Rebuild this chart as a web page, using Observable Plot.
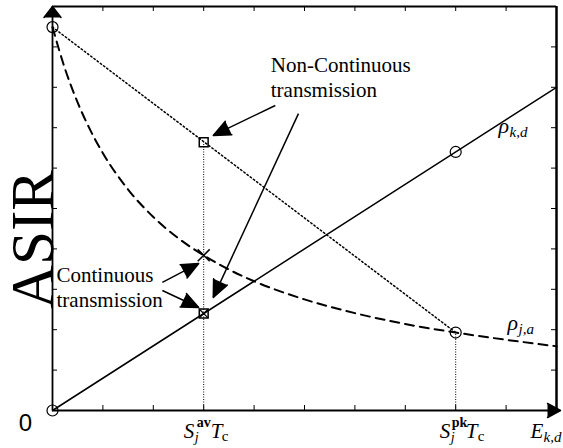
<!DOCTYPE html>
<html>
<head>
<meta charset="utf-8">
<script src="https://cdn.jsdelivr.net/npm/d3@7"></script>
<script src="https://cdn.jsdelivr.net/npm/@observablehq/plot@0.6"></script>
<style>
  html, body { margin: 0; padding: 0; background: #fff; }
  #chart svg { font-family: "Liberation Serif", "Times New Roman", serif; }
</style>
</head>
<body>
<div id="chart"></div>
<script>
// ---------- data ----------
const tickValues = [1, 2, 3, 4, 5, 6, 7, 8, 9];

// rho_{k,d}: straight line
const kdX = [0, 10];
const kdY = [0, 8.0];

// rho_{j,a}: dashed decreasing curve
const jaX = [0, 0.25, 0.5, 0.75, 1, 1.5, 2, 2.5, 3, 3.5, 4, 5, 6, 7, 8, 9, 10];
const jaY = [9.49, 8.45, 7.62, 6.94, 6.37, 5.47, 4.79, 4.26, 3.84, 3.49, 3.20, 2.75, 2.41, 2.14, 1.93, 1.75, 1.59];

// non-continuous transmission: dotted straight line
const ncX = [0, 8];
const ncY = [9.49, 1.93];

// vertical drop lines
const dropX = [3, 8];
const dropY = [6.64, 1.93];

// markers
const circleX = [0, 0, 8, 8];
const circleY = [0, 9.49, 6.40, 1.93];
const squareX = [3, 3];
const squareY = [6.64, 2.40];
const crossBigX = [3];
const crossBigY = [3.84];
const crossSmallX = [3];
const crossSmallY = [2.40];

// annotation arrows
const arrowFromX = [4.42, 4.88, 2.18, 2.18];
const arrowFromY = [7.55, 7.35, 3.17, 2.97];
const arrowToX   = [3.19, 3.19, 2.90, 2.90];
const arrowToY   = [6.81, 2.80, 3.64, 2.55];

// annotation texts
const noteText = ["Non-Continuous\ntransmission", "Continuous\ntransmission"];
const noteX = [4.33, 0.08];
const noteY = [7.75, 2.57];

// y title
const yTitle = "ASIR";
const yTitleAt = 4.23;

// x tick labels  S_j^{sup} T_c
const xLabelAt = [3, 8];
const xLabelSup = ["av", "pk"];

// curve labels
const rhoSub = ["k,d", "j,a"];
const rhoX = [8.85, 9.03];
const rhoY = [6.86, 2.00];

// ---------- layout ----------
const W = 563, H = 448, ML = 52, MR = 7, MT = 6, MB = 38;
const kx = (W - ML - MR) / 10, ky = (H - MT - MB) / 10;
const TL = 5; // tick length px

const zip = (xs, ys) => xs.map((x, i) => ({x, y: ys[i]}));
const kd = zip(kdX, kdY);
const ja = zip(jaX, jaY);
const nc = zip(ncX, ncY);
const drops = zip(dropX, dropY);
const circles = zip(circleX, circleY);
const squares = zip(squareX, squareY);
const crossBig = zip(crossBigX, crossBigY);
const crossSmall = zip(crossSmallX, crossSmallY);
const arrows = arrowFromX.map((x1, i) => ({
  x1, y1: arrowFromY[i], x2: arrowToX[i], y2: arrowToY[i],
  angle: Math.atan2((arrowToX[i] - x1) * kx, (arrowToY[i] - arrowFromY[i]) * ky) * 180 / Math.PI
}));
const notes = noteText.map((t, i) => ({t, x: noteX[i], y: noteY[i]}));
const xLabels = xLabelAt.map((x, i) => ({x, sup: xLabelSup[i]}));
const rhos = rhoSub.map((s, i) => ({s, x: rhoX[i], y: rhoY[i]}));

const SERIF = '"Liberation Serif", "Times New Roman", serif';
const SANS = '"Liberation Sans", Arial, sans-serif';

// offsets for the two x labels (pixels): S, j, sup, T, c
const off = {
  av: {S: -20, j: -9, sup: -7, T: 7, c: 18},
  pk: {S: -16, j: -5, sup: -4, T: 10, c: 22}
};

const labelMarks = [];
for (const d of xLabels) {
  const o = off[d.sup];
  const base = {x: d.x, y: 0, textAnchor: "start", lineAnchor: "bottom", fontFamily: SERIF, fill: "black"};
  labelMarks.push(
    Plot.text([d], {...base, text: () => "S", dx: o.S, dy: 27, fontSize: 21, fontStyle: "italic"}),
    Plot.text([d], {...base, text: () => "j", dx: o.j, dy: 31, fontSize: 14, fontStyle: "italic"}),
    Plot.text([d], {...base, text: () => d.sup, dx: o.sup, dy: 16, fontSize: 14, fontWeight: "bold"}),
    Plot.text([d], {...base, text: () => "T", dx: o.T, dy: 27, fontSize: 21, fontStyle: "italic"}),
    Plot.text([d], {...base, text: () => "c", dx: o.c, dy: 30, fontSize: 15})
  );
}

const chart = Plot.plot({
  width: W, height: H,
  marginLeft: ML, marginRight: MR, marginTop: MT, marginBottom: MB,
  x: {domain: [0, 10], axis: null},
  y: {domain: [0, 10], axis: null},
  style: {background: "white", overflow: "visible", fontFamily: SERIF},
  marks: [
    // frame (top & right)
    Plot.ruleY([10], {stroke: "black", strokeWidth: 2}),
    Plot.ruleX([10], {stroke: "black", strokeWidth: 2.5}),
    // inward ticks on all four sides
    Plot.ruleX(tickValues, {x: d => d, y1: 0, y2: TL / ky, stroke: "black", strokeWidth: 1}),
    Plot.ruleX(tickValues, {x: d => d, y1: 10, y2: 10 - TL / ky, stroke: "black", strokeWidth: 1}),
    Plot.ruleY(tickValues, {y: d => d, x1: 0, x2: TL / kx, stroke: "black", strokeWidth: 1}),
    Plot.ruleY(tickValues, {y: d => d, x1: 10, x2: 10 - TL / kx, stroke: "black", strokeWidth: 1}),
    // drop lines
    Plot.ruleX(drops, {x: "x", y1: 0, y2: "y", stroke: "black", strokeWidth: 1, strokeDasharray: "1,1.5"}),
    // axes
    Plot.ruleY([0], {stroke: "black", strokeWidth: 1.8}),
    Plot.ruleX([0], {stroke: "black", strokeWidth: 1.8}),
    Plot.vector([{x: 0, y: 10}], {x: "x", y: "y", rotate: 0, length: 11, r: 8.5, shape: "spike", anchor: "end", fill: "black", stroke: "black", fillOpacity: 1}),
    Plot.vector([{x: 10, y: 0}], {x: "x", y: "y", rotate: 90, length: 13, r: 7, dx: 4, shape: "spike", anchor: "end", fill: "black", stroke: "black", fillOpacity: 1}),
    // curves
    Plot.line(nc, {x: "x", y: "y", stroke: "black", strokeWidth: 1.5, strokeDasharray: "1.5,2.5"}),
    Plot.line(ja, {x: "x", y: "y", curve: "monotone-x", stroke: "black", strokeWidth: 2, strokeDasharray: "9,6"}),
    Plot.line(kd, {x: "x", y: "y", stroke: "black", strokeWidth: 1.5}),
    // markers
    Plot.dot(circles, {x: "x", y: "y", r: 5.5, stroke: "black", fill: "none", strokeWidth: 1.2}),
    Plot.dot(squares, {x: "x", y: "y", r: 5, symbol: "square", stroke: "black", fill: "none", strokeWidth: 1.5}),
    Plot.dot(crossBig, {x: "x", y: "y", r: 5.5, symbol: "times", stroke: "black", strokeWidth: 1.5}),
    Plot.dot(crossSmall, {x: "x", y: "y", r: 4, symbol: "times", stroke: "black", strokeWidth: 1.2}),
    // annotation arrows
    Plot.link(arrows, {x1: "x1", y1: "y1", x2: "x2", y2: "y2", stroke: "black", strokeWidth: 1.5}),
    Plot.vector(arrows, {x: "x2", y: "y2", rotate: "angle", length: 17, r: 7.5, shape: "spike", anchor: "end", fill: "black", stroke: "black", fillOpacity: 1}),
    // annotation text
    Plot.text(notes, {x: "x", y: "y", text: "t", textAnchor: "start", lineAnchor: "bottom", lineHeight: 1.19, fontSize: 21, fontFamily: SERIF, fill: "black"}),
    // y title
    Plot.text([yTitle], {x: 0, y: yTitleAt, text: d => d, rotate: -90, textAnchor: "middle", lineAnchor: "bottom", fontSize: 61, fontFamily: SERIF, fill: "black"}),
    // origin label
    Plot.text(["0"], {x: 0, y: 0, text: d => d, dx: -27, dy: 20, lineAnchor: "bottom", fontSize: 24, fontFamily: SANS, fill: "black"}),
    // x labels
    ...labelMarks,
    // E_{k,d}
    Plot.text([0], {x: 10, y: 0, text: () => "E", dx: -26, dy: 27, textAnchor: "start", lineAnchor: "bottom", fontSize: 21, fontStyle: "italic", fontFamily: SERIF, fill: "black"}),
    Plot.text([0], {x: 10, y: 0, text: () => "k,d", dx: -13, dy: 31, textAnchor: "start", lineAnchor: "bottom", fontSize: 15, fontStyle: "italic", fontFamily: SERIF, fill: "black"}),
    // rho labels
    Plot.text(rhos, {x: "x", y: "y", text: () => "ρ", textAnchor: "start", lineAnchor: "bottom", fontSize: 22, fontStyle: "italic", fontFamily: SERIF, fill: "black"}),
    Plot.text(rhos, {x: "x", y: "y", text: "s", dx: 11, dy: 4, textAnchor: "start", lineAnchor: "bottom", fontSize: 15, fontStyle: "italic", fontFamily: SERIF, fill: "black"})
  ]
});

document.getElementById("chart").appendChild(chart);
</script>
</body>
</html>
